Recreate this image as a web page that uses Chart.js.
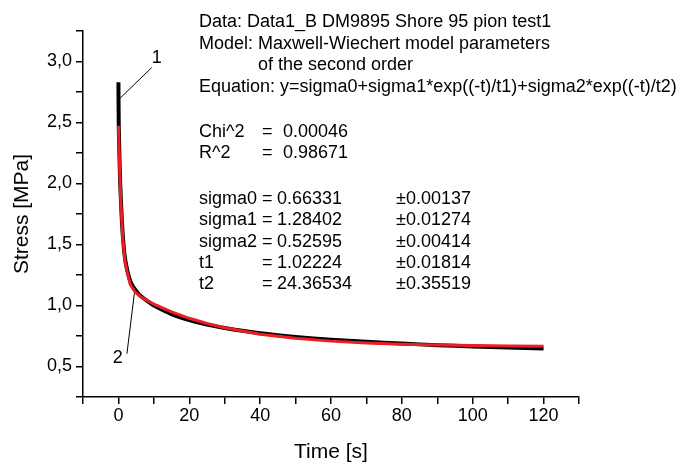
<!DOCTYPE html>
<html>
<head>
<meta charset="utf-8">
<script src="https://cdn.jsdelivr.net/npm/chart.js@4.4.1/dist/chart.umd.min.js"></script>
<style>
  html, body { margin: 0; padding: 0; background: #fff; }
  #wrap { width: 678px; height: 465px; }
</style>
</head>
<body>
<div id="wrap"><canvas id="stress-chart" width="678" height="465"></canvas></div>
<script>
// measured relaxation curve (black)
const timeMeasured = [0, 0.1, 0.5, 1, 1.5, 2, 3, 4, 5, 6, 8, 10, 15, 20, 25, 30, 40, 50, 60, 70, 80, 90, 100, 110, 120];
const stressMeasured = [2.83, 2.45, 2.0, 1.68, 1.48, 1.36, 1.23, 1.16, 1.12, 1.085, 1.04, 1.0, 0.93, 0.88, 0.843, 0.815, 0.772, 0.742, 0.72, 0.703, 0.688, 0.675, 0.664, 0.655, 0.647];

// fitted curve (red)
const timeFit = [0, 0.6, 1.2, 1.9, 3.3, 4.7, 6.1, 8, 10, 15, 20, 25, 30, 40, 50, 60, 70, 80, 90, 100, 110, 120];
const stressFit = [2.473, 1.89, 1.561, 1.35, 1.174, 1.11, 1.076, 1.043, 1.012, 0.948, 0.895, 0.852, 0.817, 0.765, 0.731, 0.708, 0.693, 0.683, 0.676, 0.672, 0.669, 0.667];

const infoHeader = [
  "Data: Data1_B DM9895 Shore 95 pion test1",
  "Model: Maxwell-Wiechert model parameters",
  "of the second order",
  "Equation: y=sigma0+sigma1*exp((-t)/t1)+sigma2*exp((-t)/t2)"
];
const statNames = ["Chi^2", "R^2"];
const statValues = ["0.00046", "0.98671"];
const paramNames = ["sigma0", "sigma1", "sigma2", "t1", "t2"];
const paramValues = ["0.66331", "1.28402", "0.52595", "1.02224", "24.36534"];
const paramErrors = ["\u00b10.00137", "\u00b10.01274", "\u00b10.00414", "\u00b10.01814", "\u00b10.35519"];

const FONT = "'Liberation Sans', Arial, sans-serif";
Chart.defaults.font.family = FONT;
Chart.defaults.color = "#000";

const toPoints = (xs, ys) => xs.map((x, i) => ({ x: x, y: ys[i] }));

// text block + the "1" / "2" curve labels
const notesPlugin = {
  id: "notes",
  afterDatasetsDraw(chart) {
    const ctx = chart.ctx;
    const xs = chart.scales.x, ys = chart.scales.y;
    ctx.save();
    ctx.fillStyle = "#000";
    ctx.strokeStyle = "#000";
    ctx.font = "18px " + FONT;
    ctx.textBaseline = "alphabetic";
    ctx.textAlign = "left";

    ctx.fillText(infoHeader[0], 199, 27);
    ctx.fillText(infoHeader[1], 199, 48.5);
    ctx.fillText(infoHeader[2], 258, 70);
    ctx.fillText(infoHeader[3], 199, 92);

    statNames.forEach((n, i) => {
      const y = 136.5 + i * 21.5;
      ctx.fillText(n, 199, y);
      ctx.fillText("=", 262, y);
      ctx.fillText(statValues[i], 283, y);
    });
    paramNames.forEach((n, i) => {
      const y = 203.8 + i * 21.4;
      ctx.fillText(n, 199, y);
      ctx.fillText("=", 262, y);
      ctx.fillText(paramValues[i], 277, y);
      ctx.fillText(paramErrors[i], 396, y);
    });

    // leader lines
    ctx.lineWidth = 1;
    ctx.beginPath();
    ctx.moveTo(xs.getPixelForValue(0.5), ys.getPixelForValue(2.70));
    ctx.lineTo(xs.getPixelForValue(9.4), ys.getPixelForValue(2.95));
    ctx.moveTo(xs.getPixelForValue(4.5), ys.getPixelForValue(1.10));
    ctx.lineTo(xs.getPixelForValue(2.4), ys.getPixelForValue(0.605));
    ctx.stroke();

    ctx.textAlign = "center";
    ctx.textBaseline = "middle";
    ctx.fillText("1", xs.getPixelForValue(10.8), ys.getPixelForValue(3.03));
    ctx.fillText("2", xs.getPixelForValue(-0.2), ys.getPixelForValue(0.57));
    ctx.restore();
  }
};

const axisGrid = {
  display: true,
  drawOnChartArea: false,
  drawTicks: true,
  tickLength: 7,
  color: "#000",
  lineWidth: 1.5
};

new Chart(document.getElementById("stress-chart").getContext("2d"), {
  type: "line",
  data: {
    datasets: [
      {
        label: "measured",
        data: toPoints(timeMeasured, stressMeasured),
        borderColor: "#000",
        borderWidth: 4,
        pointRadius: 0,
        fill: false,
        tension: 0.2,
        order: 2
      },
      {
        label: "fit",
        data: toPoints(timeFit, stressFit),
        borderColor: "#ee1c24",
        borderWidth: 3,
        pointRadius: 0,
        fill: false,
        tension: 0,
        order: 1
      }
    ]
  },
  options: {
    responsive: false,
    animation: false,
    devicePixelRatio: 1,
    layout: { padding: { left: 0, top: 31, right: 99, bottom: 0 } },
    plugins: {
      legend: { display: false },
      tooltip: { enabled: false }
    },
    scales: {
      x: {
        type: "linear",
        min: -10,
        max: 130,
        grid: axisGrid,
        border: { display: true, color: "#000", width: 1.5 },
        ticks: {
          stepSize: 10,
          padding: 1,
          font: { size: 18 },
          color: "#000",
          maxRotation: 0,
          autoSkip: false,
          callback: v => (v % 20 === 0 ? String(v) : "")
        },
        title: {
          display: true,
          text: "Time [s]",
          font: { size: 21 },
          color: "#000",
          padding: { top: 0, bottom: 0 }
        },
        afterFit: s => { s.height = 68; }
      },
      y: {
        type: "linear",
        min: 0.25,
        max: 3.25,
        grid: axisGrid,
        border: { display: true, color: "#000", width: 1.5 },
        ticks: {
          stepSize: 0.25,
          padding: 4,
          font: { size: 18 },
          color: "#000",
          autoSkip: false,
          callback: v => {
            const h = v * 2;
            return Math.abs(h - Math.round(h)) < 1e-6 ? v.toFixed(1).replace(".", ",") : "";
          }
        },
        title: {
          display: true,
          text: "Stress [MPa]",
          font: { size: 21 },
          color: "#000",
          padding: { top: 10, bottom: 0 }
        },
        afterFit: s => { s.width = 83; }
      }
    }
  },
  plugins: [notesPlugin]
});
</script>
</body>
</html>
